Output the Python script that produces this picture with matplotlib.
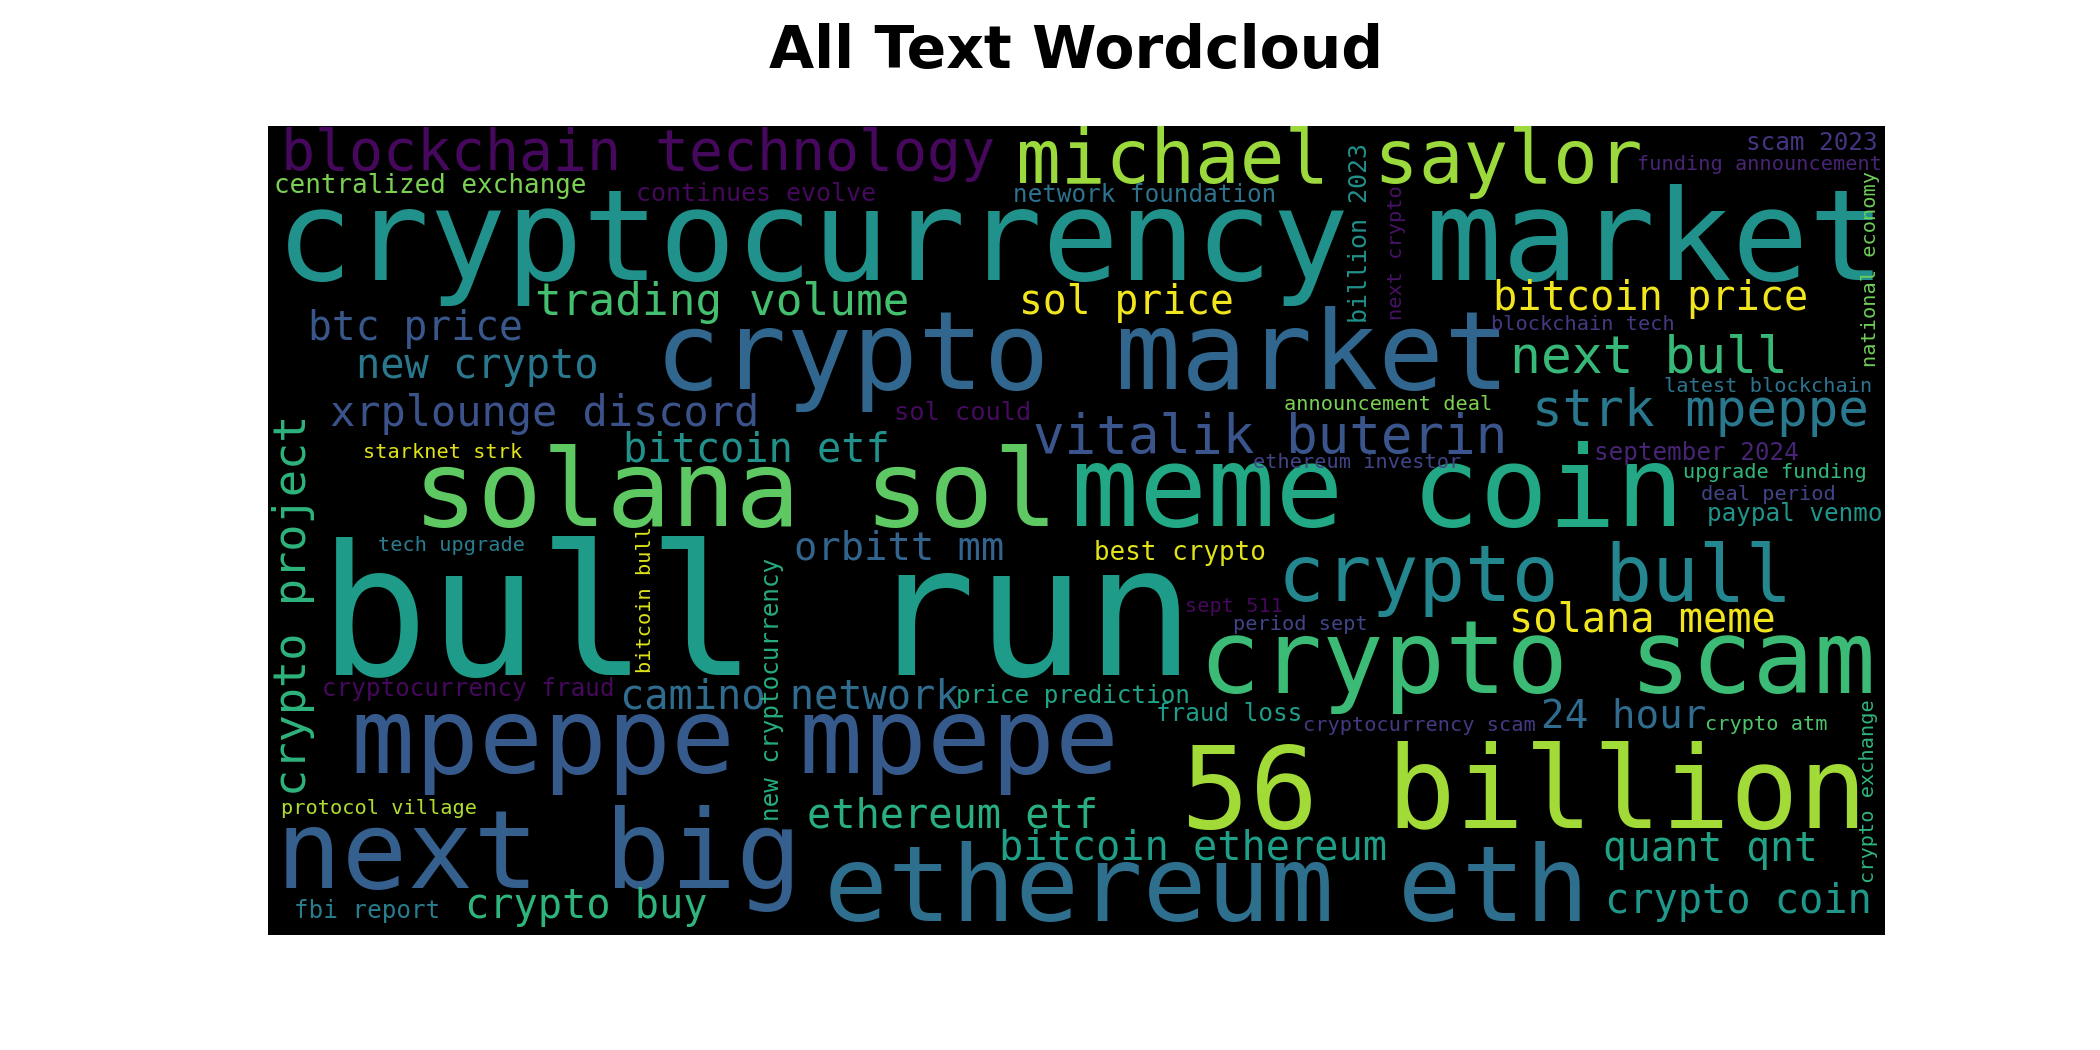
import numpy as np
import matplotlib.pyplot as plt

# phrases in the cloud and their weight (font size in cloud pixels, 400x200 canvas)
phrases = [
    'bull run', 'cryptocurrency market', 'meme coin', '56 billion', 'crypto market',
    'next big', 'solana sol', 'mpeppe mpepe', 'ethereum eth', 'crypto scam',
    'crypto bull', 'michael saylor', 'blockchain technology', 'vitalik buterin', 'next bull',
    'strk mpeppe', 'crypto project', 'trading volume', 'xrplounge discord', 'new crypto',
    'btc price', 'sol price', 'bitcoin price', 'bitcoin etf', 'camino network',
    'orbitt mm', 'solana meme', '24 hour', 'ethereum etf', 'bitcoin ethereum',
    'quant qnt', 'crypto coin', 'crypto buy', 'centralized exchange', 'continues evolve',
    'sol could', 'best crypto', 'network foundation', 'scam 2023', 'september 2024',
    'paypal venmo', 'cryptocurrency fraud', 'price prediction', 'fraud loss', 'fbi report',
    'new cryptocurrency', 'billion 2023', 'funding announcement', 'ethereum investor', 'announcement deal',
    'next crypto', 'national economy', 'blockchain tech', 'latest blockchain', 'upgrade funding',
    'deal period', 'starknet strk', 'tech upgrade', 'bitcoin bull', 'protocol village',
    'sept 511', 'period sept', 'cryptocurrency scam', 'crypto atm', 'crypto exchange',
]
weights = [
    45, 31.5, 28, 28.2, 27,
    27, 26.5, 26.3, 26.2, 25.3,
    19.2, 18.4, 14, 13, 12.7,
    12.6, 11.2, 11, 10.4, 10,
    9.8, 9.8, 10, 10, 10,
    9.6, 10, 9.7, 10, 10,
    9.8, 10, 10, 6.4, 6.2,
    6.3, 6.4, 6, 6, 6,
    6, 6, 6, 6, 6,
    6, 6.2, 5, 5, 5,
    5, 5, 5, 5, 5,
    5, 5, 5, 5, 5,
    5, 5, 5, 5, 5,
]

# cloud layout: left end of baseline, in canvas pixels
pos_x = [
    12.6, 2.0, 198.6, 226.0, 95.7,
    2.0, 36.0, 20.5, 137.7, 230.4,
    249.8, 185.2, 3.2, 189.4, 307.4,
    312.7, 9.4, 66.0, 15.3, 21.8,
    9.9, 185.8, 303.0, 88.0, 87.2,
    130.3, 307.0, 315.0, 133.3, 181.0,
    330.3, 330.8, 48.7, 1.5, 91.2,
    154.9, 204.3, 184.4, 365.6, 328.0,
    356.0, 13.5, 170.3, 219.8, 6.4,
    126.4, 272.0, 338.7, 243.6, 251.4,
    280.6, 397.8, 302.5, 345.4, 350.2,
    354.6, 23.6, 27.2, 94.7, 3.3,
    226.9, 238.8, 256.0, 355.5, 397.3,
]
pos_y = [
    135.7, 38.1, 98.9, 173.6, 65.0,
    188.5, 98.9, 160.0, 196.7, 140.3,
    117.6, 14.2, 10.9, 80.8, 61.1,
    74.3, 165.8, 46.7, 74.3, 62.4,
    52.9, 46.5, 45.5, 83.0, 144.0,
    107.3, 125.0, 148.9, 173.6, 181.4,
    181.9, 194.6, 195.9, 16.6, 18.5,
    72.7, 107.3, 18.7, 5.9, 82.6,
    97.8, 141.1, 142.7, 147.3, 195.9,
    172.0, 48.8, 10.9, 84.6, 70.2,
    48.0, 59.5, 50.4, 65.7, 87.1,
    92.5, 82.2, 105.2, 135.3, 170.3,
    120.3, 124.6, 149.7, 149.3, 187.2,
]
vertical = {'crypto project', 'new cryptocurrency', 'billion 2023', 'next crypto',
            'national economy', 'bitcoin bull', 'crypto exchange'}

# colour of each phrase as a position on viridis
shade = [
    0.55, 0.50, 0.60, 0.86, 0.33,
    0.30, 0.75, 0.28, 0.36, 0.68,
    0.46, 0.85, 0.02, 0.26, 0.67,
    0.40, 0.65, 0.70, 0.25, 0.40,
    0.27, 0.98, 0.98, 0.50, 0.35,
    0.32, 0.98, 0.35, 0.63, 0.56,
    0.58, 0.53, 0.65, 0.80, 0.02,
    0.03, 0.95, 0.38, 0.15, 0.10,
    0.52, 0.02, 0.58, 0.55, 0.42,
    0.62, 0.50, 0.10, 0.20, 0.80,
    0.05, 0.78, 0.17, 0.38, 0.66,
    0.20, 0.95, 0.42, 0.95, 0.88,
    0.02, 0.20, 0.17, 0.72, 0.65,
]

W, H = 400, 200
DPI = 210

fig = plt.figure(figsize=(10, 5), dpi=DPI)
ax = fig.add_subplot(111)
ax.imshow(np.zeros((H, W)), cmap='gray', vmin=0, vmax=1, extent=(0, W, H, 0))

# canvas pixel -> figure pixel (image fills the axes height)
px_per_unit = 5 * DPI * 0.77 / H
viridis = plt.get_cmap('viridis')

for phrase, w, x, y, c in zip(phrases, weights, pos_x, pos_y, shade):
    ax.text(x, y, phrase, fontsize=w * px_per_unit * 72 / DPI,
            family='DejaVu Sans Mono', color=viridis(c),
            ha='left', va='baseline',
            rotation=90 if phrase in vertical else 0, rotation_mode='anchor',
            clip_on=True)

ax.set_xlim(0, W)
ax.set_ylim(H, 0)
ax.axis('off')

plt.title('All Text Wordcloud', fontsize=20, fontweight='bold', pad=20)
plt.savefig('out.png', dpi=DPI)
plt.close()
